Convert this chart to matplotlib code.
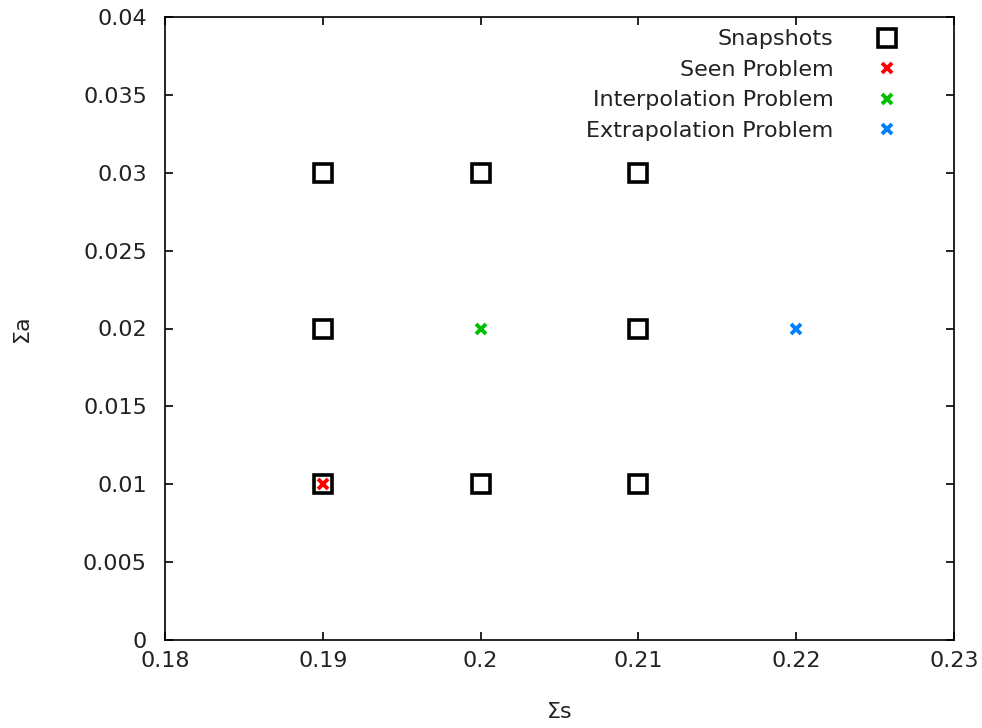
import matplotlib
matplotlib.use("Agg")
import matplotlib.pyplot as plt

snap_x = [0.19, 0.19, 0.19, 0.20, 0.20, 0.21, 0.21, 0.21]
snap_y = [0.01, 0.02, 0.03, 0.01, 0.03, 0.01, 0.02, 0.03]
seen_x = [0.19]
seen_y = [0.01]
interp_x = [0.20]
interp_y = [0.02]
extrap_x = [0.22]
extrap_y = [0.02]
xticks = [0.18, 0.19, 0.2, 0.21, 0.22, 0.23]
xtick_labels = ["0.18", "0.19", "0.2", "0.21", "0.22", "0.23"]
yticks = [0, 0.005, 0.01, 0.015, 0.02, 0.025, 0.03, 0.035, 0.04]
ytick_labels = ["0", "0.005", "0.01", "0.015", "0.02", "0.025", "0.03", "0.035", "0.04"]

plt.rcParams['font.family'] = ['DejaVu Sans']
fs = 16
fig = plt.figure(figsize=(9.82, 7.28), dpi=100)
ax = fig.add_axes([165/982, 1-640/728, (954-165)/982, (640-17)/728])

ax.plot(snap_x, snap_y, linestyle='none', marker='s', markersize=12.5,
        markerfacecolor='none', markeredgecolor='black', markeredgewidth=2.6,
        label='Snapshots')
ax.plot(seen_x, seen_y, linestyle='none', marker='x', markersize=7.5,
        markeredgecolor='#ff0000', markeredgewidth=2.8, label='Seen Problem')
ax.plot(interp_x, interp_y, linestyle='none', marker='x', markersize=7.5,
        markeredgecolor='#00c000', markeredgewidth=2.8, label='Interpolation Problem')
ax.plot(extrap_x, extrap_y, linestyle='none', marker='x', markersize=7.5,
        markeredgecolor='#0080ff', markeredgewidth=2.8, label='Extrapolation Problem')

ax.set_xlim(0.18, 0.23)
ax.set_ylim(0, 0.04)
ax.set_xticks(xticks)
ax.set_xticklabels(xtick_labels)
ax.set_yticks(yticks)
ax.set_yticklabels(ytick_labels)
ax.tick_params(direction='in', length=6, width=1.2, top=True, right=True,
               labelsize=fs, colors='black', labelcolor='#222222')
ax.tick_params(axis='y', pad=13)
ax.tick_params(axis='x', pad=8)
for s in ax.spines.values():
    s.set_linewidth(1.2)

ax.set_xlabel('Σs', fontsize=fs, color='#222222', labelpad=22)
ax.set_ylabel('Σa', fontsize=fs, color='#222222', labelpad=37)

leg = ax.legend(loc='upper right', frameon=False, markerfirst=False,
                fontsize=fs, handlelength=1.5, labelspacing=0.47,
                borderaxespad=0.0, borderpad=0.0, handletextpad=1.66,
                bbox_to_anchor=(0.936, 0.980))
for t in leg.get_texts():
    t.set_color('#222222')

fig.savefig('out.png', dpi=100)
